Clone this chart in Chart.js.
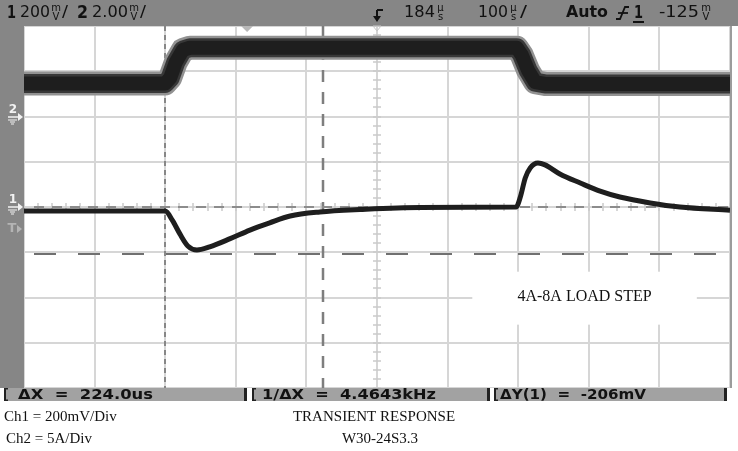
<!DOCTYPE html>
<html>
<head>
<meta charset="utf-8">
<script src="https://cdn.jsdelivr.net/npm/chart.js@4.4.0/dist/chart.umd.min.js"></script>
<style>
  html, body { margin: 0; padding: 0; background: #fff; overflow: hidden; }
  canvas { display: block; }
</style>
</head>
<body>
<canvas id="scope" width="738" height="451"></canvas>
<script>
// scope screen: x = us from screen centre (100us/div), y = divisions from centre

// Ch2 (load current) trace
const CH2_T   = [-500, -300, -293, -285, -275, -265, 198, 205, 214, 224, 238, 500];
const CH2_DIV = [2.73, 2.73, 2.85, 3.20, 3.47, 3.52, 3.52, 3.36, 3.02, 2.76, 2.72, 2.72];

// Ch1 (output voltage) trace
const CH1_T   = [-500, -300, -290, -279, -268, -255, -237, -208, -180, -152, -123, -81, -24, 61, 197,
                 203, 210, 217, 228, 238, 259, 288, 316, 344, 387, 429, 500];
const CH1_DIV = [-0.09, -0.09, -0.29, -0.60, -0.86, -0.95, -0.88, -0.70, -0.51, -0.35, -0.20, -0.11, -0.055, -0.01, 0.0,
                 0.22, 0.64, 0.86, 0.97, 0.93, 0.73, 0.53, 0.35, 0.22, 0.09, 0.0, -0.07];

const CURSOR_X = [-300, -76];     // X1, X2 (us)
const CURSOR_Y = [0, -1.03];      // Y1, Y2 (div)
const TRIG_REF_T = -184;          // delay marker
const CH2_GND = 2, CH1_GND = 0, TRIG_LEVEL = -0.48;

const TOP_LEFT = ["1", "200", "2", "2.00"];
const TOP_RIGHT = ["184", "100", "Auto", "1", "-125"];
const READOUTS = ["ΔX  =  224.0us", "1/ΔX  =  4.4643kHz", "ΔY(1)  =  -206mV"];
const NOTE = "4A-8A LOAD STEP";
const FOOT_LEFT = ["Ch1 = 200mV/Div", "Ch2 = 5A/Div"];
const FOOT_CENTRE = ["TRANSIENT RESPONSE", "W30-24S3.3"];

const pts = (xs, ys) => xs.map((t, i) => ({ x: t, y: ys[i] }));

// text squeezed/stretched to a width
function fitText(ctx, text, x, y, w) {
  const m = ctx.measureText(text).width;
  ctx.save();
  ctx.translate(x, y);
  ctx.scale(w / m, 1);
  ctx.fillText(text, 0, 0);
  ctx.restore();
}
function stacked(ctx, a, b, x, w) {
  ctx.save();
  ctx.font = "10px 'DejaVu Sans'";
  ctx.textAlign = "center";
  ctx.fillText(a, x + w / 2, 8);
  ctx.fillText(b, x + w / 2, 17);
  ctx.restore();
}
function seg(ctx, x1, y1, x2, y2) {
  ctx.beginPath(); ctx.moveTo(x1, y1); ctx.lineTo(x2, y2); ctx.stroke();
}

const scopeDeco = {
  id: "scopeDeco",
  beforeDatasetsDraw(chart) {
    const { ctx, chartArea: a, scales: { x, y } } = chart;
    ctx.save();
    // note box blanks the graticule
    const bx0 = x.getPixelForValue(135), bx1 = x.getPixelForValue(453);
    const by0 = y.getPixelForValue(-1.43), by1 = y.getPixelForValue(-2.6);
    ctx.fillStyle = "#fff";
    ctx.fillRect(bx0, by0, bx1 - bx0, by1 - by0);

    // centre cross minor ticks
    const cx = Math.round(x.getPixelForValue(0)), cy = Math.round(y.getPixelForValue(0));
    ctx.strokeStyle = "#cacaca";
    ctx.lineWidth = 1.5;
    for (let v = -20; v <= 20; v++) {
      const py = Math.round(y.getPixelForValue(v * 0.2));
      seg(ctx, cx - 4, py, cx + 4, py);
    }
    for (let v = -25; v <= 25; v++) {
      const px = Math.round(x.getPixelForValue(v * 20));
      seg(ctx, px, cy - 4, px, cy + 4);
    }

    // cursors
    const vline = (t, dash, col, w) => {
      ctx.setLineDash(dash); ctx.strokeStyle = col; ctx.lineWidth = w;
      const px = Math.round(x.getPixelForValue(t));
      seg(ctx, px, a.top, px, a.bottom);
    };
    const hline = (v, dash, col, w) => {
      ctx.setLineDash(dash); ctx.strokeStyle = col; ctx.lineWidth = w;
      const py = Math.round(y.getPixelForValue(v));
      seg(ctx, a.left + 10, py, a.right, py);
    };
    vline(CURSOR_X[0], [5, 4], "#6e6e6e", 1.5);
    vline(CURSOR_X[1], [12, 10], "#7e7e7e", 2.5);
    hline(CURSOR_Y[0], [10, 8], "#8c8c8c", 2);
    hline(CURSOR_Y[1], [22, 22], "#707070", 2);
    ctx.setLineDash([]);

    // note text
    ctx.fillStyle = "#111";
    ctx.font = "16px 'Liberation Serif'";
    ctx.textAlign = "center";
    ctx.textBaseline = "middle";
    ctx.fillText(NOTE, (bx0 + bx1) / 2, y.getPixelForValue(-1.98));
    ctx.restore();
  },
  afterDraw(chart) {
    const { ctx, chartArea: a, scales: { x, y } } = chart;
    ctx.save();
    // frame bars
    ctx.fillStyle = "#868686";
    ctx.fillRect(0, 0, chart.width, a.top);
    ctx.fillRect(0, 0, a.left, a.bottom);
    ctx.fillStyle = "#fff";
    ctx.fillRect(0, a.bottom, chart.width, chart.height - a.bottom);
    ctx.fillRect(a.right + 1, a.top, chart.width - a.right, a.bottom - a.top);
    ctx.fillStyle = "#9c9c9c";
    ctx.fillRect(a.right, a.top, 2, a.bottom - a.top);

    // top status line
    ctx.fillStyle = "#111";
    ctx.textBaseline = "middle";
    ctx.textAlign = "left";
    ctx.font = "bold 18px 'DejaVu Sans'";
    fitText(ctx, TOP_LEFT[0], 7, 13, 9);
    fitText(ctx, TOP_LEFT[2], 77, 13, 11);
    ctx.font = "16px 'DejaVu Sans'";
    fitText(ctx, TOP_LEFT[1], 20, 13, 30);
    stacked(ctx, "m", "V", 50, 12);
    fitText(ctx, "/", 62, 13, 6);
    fitText(ctx, TOP_LEFT[3], 92, 13, 36);
    stacked(ctx, "m", "V", 128, 12);
    fitText(ctx, "/", 140, 13, 6);

    fitText(ctx, TOP_RIGHT[0], 404, 13, 31);
    stacked(ctx, "µ", "s", 435, 11);
    fitText(ctx, TOP_RIGHT[1], 478, 13, 30);
    stacked(ctx, "µ", "s", 508, 11);
    fitText(ctx, "/", 520, 13, 7);
    ctx.font = "bold 16px 'DejaVu Sans'";
    fitText(ctx, TOP_RIGHT[2], 566, 13, 42);
    ctx.font = "bold 18px 'DejaVu Sans'";
    fitText(ctx, TOP_RIGHT[3], 634, 13, 9);
    ctx.fillRect(633, 21, 11, 2);
    ctx.font = "16px 'DejaVu Sans'";
    fitText(ctx, TOP_RIGHT[4], 659, 13, 40);
    stacked(ctx, "m", "V", 700, 12);
    // trigger slope symbol
    ctx.strokeStyle = "#111";
    ctx.lineWidth = 1.8;
    ctx.beginPath();
    ctx.moveTo(616, 19); ctx.lineTo(620, 19); ctx.lineTo(625, 7); ctx.lineTo(629, 7);
    ctx.stroke();
    seg(ctx, 618, 13, 628, 13);

    // trigger point mark at screen centre
    const tx = Math.round(x.getPixelForValue(0));
    ctx.lineWidth = 2;
    seg(ctx, tx + 6, 10, tx, 10);
    seg(ctx, tx, 10, tx, 19);
    ctx.beginPath();
    ctx.moveTo(tx - 4, 16); ctx.lineTo(tx + 4, 16); ctx.lineTo(tx, 22); ctx.closePath();
    ctx.fill();

    // delay reference triangle
    const rx = x.getPixelForValue(TRIG_REF_T);
    ctx.fillStyle = "#b8b8b8";
    ctx.beginPath();
    ctx.moveTo(rx - 6, a.top); ctx.lineTo(rx + 6, a.top); ctx.lineTo(rx, a.top + 6); ctx.closePath();
    ctx.fill();
    ctx.strokeStyle = "#c8c8c8";
    ctx.lineWidth = 1;
    ctx.beginPath();
    ctx.moveTo(tx - 4, a.top); ctx.lineTo(tx + 4, a.top); ctx.lineTo(tx, a.top + 5); ctx.closePath();
    ctx.stroke();

    // channel ground markers
    const marker = (label, v, col) => {
      const py = Math.round(y.getPixelForValue(v));
      ctx.fillStyle = col; ctx.strokeStyle = col;
      ctx.font = "bold 12px 'DejaVu Sans'";
      ctx.textAlign = "center";
      ctx.fillText(label, 13, py - 7);
      ctx.lineWidth = 1.5;
      seg(ctx, 8, py, 19, py);
      ctx.beginPath();
      ctx.moveTo(18, py - 4); ctx.lineTo(23, py); ctx.lineTo(18, py + 4); ctx.closePath();
      ctx.fill();
      ctx.lineWidth = 1;
      seg(ctx, 8, py + 3, 17, py + 3);
      seg(ctx, 10, py + 5, 15, py + 5);
      seg(ctx, 11, py + 7, 14, py + 7);
    };
    marker("2", CH2_GND, "#f2f2f2");
    marker("1", CH1_GND, "#f2f2f2");
    const ty = Math.round(y.getPixelForValue(TRIG_LEVEL));
    ctx.fillStyle = "#b4b4b4";
    ctx.font = "bold 13px 'DejaVu Sans'";
    ctx.textAlign = "center";
    ctx.fillText("T", 12, ty);
    ctx.beginPath();
    ctx.moveTo(17, ty - 4); ctx.lineTo(22, ty); ctx.lineTo(17, ty + 4); ctx.closePath();
    ctx.fill();

    // bottom readout bar
    const secs = [[4, 247], [252, 490], [494, 727]];
    const txt = [[18, 135], [262, 174], [500, 146]];
    const by = a.bottom;
    secs.forEach(([s0, s1], i) => {
      ctx.fillStyle = "#a2a2a2";
      ctx.fillRect(s0, by, s1 - s0, 13);
      ctx.fillStyle = "#222";
      ctx.fillRect(s0, by, 2, 13);
      ctx.fillRect(s0, by, 4, 1.5);
      ctx.fillRect(s0, by + 11.5, 4, 1.5);
      ctx.fillRect(s1 - 3, by, 3, 13);
      ctx.fillStyle = "#111";
      ctx.textAlign = "left";
      ctx.textBaseline = "middle";
      ctx.font = "bold 14px 'DejaVu Sans'";
      fitText(ctx, READOUTS[i], txt[i][0], by + 7, txt[i][1]);
    });

    // footer notes
    ctx.fillStyle = "#111";
    ctx.font = "15px 'Liberation Serif'";
    ctx.textBaseline = "middle";
    ctx.textAlign = "left";
    ctx.fillText(FOOT_LEFT[0], 4, 417);
    ctx.fillText(FOOT_LEFT[1], 6, 439);
    ctx.textAlign = "center";
    ctx.fillText(FOOT_CENTRE[0], 374, 417);
    ctx.fillText(FOOT_CENTRE[1], 380, 439);
    ctx.restore();
  }
};

const ch2Layer = (label, color, width, order) => ({
  label,
  data: pts(CH2_T, CH2_DIV),
  borderColor: color,
  borderWidth: width,
  borderJoinStyle: "round",
  tension: 0,
  pointRadius: 0,
  clip: 0,
  order,
});

new Chart(document.getElementById("scope").getContext("2d"), {
  type: "line",
  data: {
    datasets: [
      {
        label: "Ch1",
        data: pts(CH1_T, CH1_DIV),
        borderColor: "#1e1e1e",
        borderWidth: 5,
        cubicInterpolationMode: "monotone",
        pointRadius: 0,
        clip: 0,
        order: 0,
      },
      ch2Layer("Ch2", "#1e1e1e", 14, 1),
      ch2Layer("Ch2 noise", "#383838", 19, 2),
      ch2Layer("Ch2 spikes", "#929292", 24, 3),
    ],
  },
  options: {
    responsive: false,
    animation: false,
    devicePixelRatio: 1,
    layout: { padding: { left: 24, right: 8, top: 26, bottom: 63 } },
    plugins: { legend: { display: false }, tooltip: { enabled: false } },
    scales: {
      x: {
        type: "linear",
        min: -500,
        max: 500,
        ticks: { display: false, stepSize: 100 },
        grid: { color: "#d6d6d6", lineWidth: 2, drawTicks: false },
        border: { display: false },
      },
      y: {
        type: "linear",
        min: -4,
        max: 4,
        ticks: { display: false, stepSize: 1 },
        grid: { color: "#d6d6d6", lineWidth: 2, drawTicks: false },
        border: { display: false },
      },
    },
  },
  plugins: [scopeDeco],
});
</script>
</body>
</html>
